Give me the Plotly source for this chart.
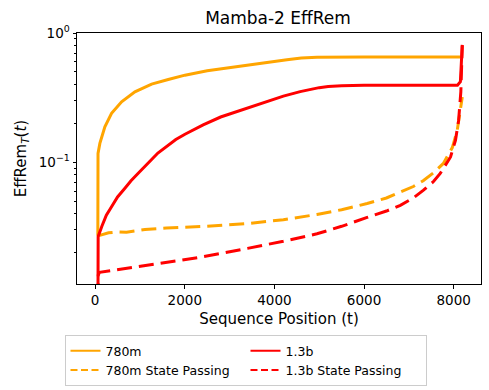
import plotly.graph_objects as go

# ---- data ----
t_780m = [60, 64, 105, 217, 366, 590, 887, 1260, 1631, 2004, 2500, 3070, 3600, 4280, 4600, 4950, 6000, 7000, 8000, 8150]
v_780m = [0.027, 0.117, 0.14, 0.188, 0.239, 0.294, 0.351, 0.402, 0.437, 0.472, 0.51, 0.545, 0.58, 0.62, 0.64, 0.65, 0.652, 0.653, 0.653, 0.653]

t_780m_sp = [64, 300, 514, 700, 1110, 1590, 2500, 3400, 4200, 4950, 5500, 6070, 6500, 6810, 7100, 7320, 7550, 7770, 7970, 8080, 8150, 8192]
v_780m_sp = [0.027, 0.0285, 0.029, 0.0288, 0.0302, 0.031, 0.032, 0.0336, 0.036, 0.0395, 0.043, 0.048, 0.053, 0.059, 0.065, 0.072, 0.083, 0.098, 0.13, 0.177, 0.26, 0.32]

t_13b = [60, 67, 150, 250, 366, 500, 664, 800, 961, 1149, 1260, 1400, 1558, 1800, 2004, 2410, 2800, 3200, 3837, 4200, 4575, 4800, 5000, 5200, 5500, 6000, 7000, 8085, 8150, 8192]
v_13b = [0.004, 0.0267, 0.032, 0.039, 0.0454, 0.054, 0.063, 0.072, 0.0822, 0.097, 0.105, 0.118, 0.13, 0.15, 0.165, 0.195, 0.224, 0.25, 0.298, 0.325, 0.352, 0.368, 0.378, 0.386, 0.391, 0.394, 0.395, 0.395, 0.42, 0.81]

t_13b_sp = [60, 70, 100, 830, 1600, 2330, 3400, 4200, 4950, 5500, 6070, 6500, 6810, 7100, 7320, 7550, 7700, 7930, 8040, 8110, 8160, 8192]
v_13b_sp = [0.006, 0.0135, 0.0141, 0.0154, 0.0168, 0.0184, 0.0216, 0.0245, 0.028, 0.032, 0.0375, 0.042, 0.0465, 0.053, 0.0607, 0.071, 0.082, 0.11, 0.148, 0.21, 0.35, 0.80]

series_names = ["780m", "780m State Passing", "1.3b", "1.3b State Passing"]
series_colors = ["orange", "orange", "red", "red"]
series_dash = ["solid", "15px,7px", "solid", "15px,7px"]
legend_dash = ["solid", "7px,3.5px", "solid", "7px,3.5px"]
legend_rank = [1, 3, 2, 4]

y_tickvals = [0.1, 1]
y_ticktext = ["10<sup>\u22121</sup>", "10<sup>0</sup>"]
y_minor = [0.02, 0.03, 0.04, 0.05, 0.06, 0.07, 0.08, 0.09,
           0.2, 0.3, 0.4, 0.5, 0.6, 0.7, 0.8, 0.9]
x_tickvals = [0, 2000, 4000, 6000, 8000]

data = [(t_780m, v_780m), (t_780m_sp, v_780m_sp), (t_13b, v_13b), (t_13b_sp, v_13b_sp)]

fig = go.Figure()
for (tx, vy), name, col, dsh in zip(data, series_names, series_colors, series_dash):
    fig.add_trace(go.Scatter(x=tx, y=vy, mode="lines", name=name, showlegend=False,
                             line=dict(color=col, width=3, dash=dsh)))
# legend entries (thinner handles as in the reference)
for name, col, dsh, rk in zip(series_names, series_colors, legend_dash, legend_rank):
    fig.add_trace(go.Scatter(x=[None], y=[None], mode="lines", name=name, legendrank=rk,
                             line=dict(color=col, width=2, dash=dsh)))

font_family = "DejaVu Sans"
fig.update_layout(
    width=489, height=390,
    margin=dict(l=77, r=8, t=33, b=106, autoexpand=False),
    paper_bgcolor="white", plot_bgcolor="white",
    font=dict(family=font_family, color="black", size=13.5),
    title=dict(text="Mamba-2 EffRem", x=278 / 489, xanchor="center", xref="container",
               y=1 - 18.5 / 390, yanchor="middle", yref="container",
               font=dict(size=17, family=font_family, color="black")),
    showlegend=True,
    legend=dict(orientation="h", xref="container", yref="container",
                x=245.5 / 489, xanchor="center", y=1 - 335 / 390, yanchor="top",
                bordercolor="#cccccc", borderwidth=1, bgcolor="white",
                font=dict(size=12.5, family=font_family, color="black"),
                entrywidth=135, tracegroupgap=0, itemwidth=30),
)
fig.update_xaxes(
    range=[-405, 8610], tickvals=x_tickvals, ticks="outside", ticklen=3.5, tickwidth=0.8,
    tickcolor="black", showline=True, linecolor="black", linewidth=1, mirror=True,
    showgrid=False, zeroline=False, automargin=False,
    title=dict(text="Sequence Position (t)", font=dict(size=15, family=font_family), standoff=6),
    tickfont=dict(size=13.5),
)
fig.update_yaxes(
    type="log", range=[-1.941, 0.0], tickmode="array", tickvals=y_tickvals, ticktext=y_ticktext,
    ticks="outside", ticklen=3.5, tickwidth=0.8, tickcolor="black",
    minor=dict(tickmode="array", tickvals=y_minor, ticks="outside", ticklen=2,
               tickwidth=0.6, tickcolor="black", showgrid=False),
    showline=True, linecolor="black", linewidth=1, mirror=True,
    showgrid=False, zeroline=False, automargin=False,
    title=dict(text="EffRem<sub><i>T</i></sub>(<i>t</i>)", font=dict(size=15, family=font_family), standoff=8),
    tickfont=dict(size=13.5),
)

fig.write_html("out.html", config={"displayModeBar": False},
               post_script="document.body.style.margin='0';")
